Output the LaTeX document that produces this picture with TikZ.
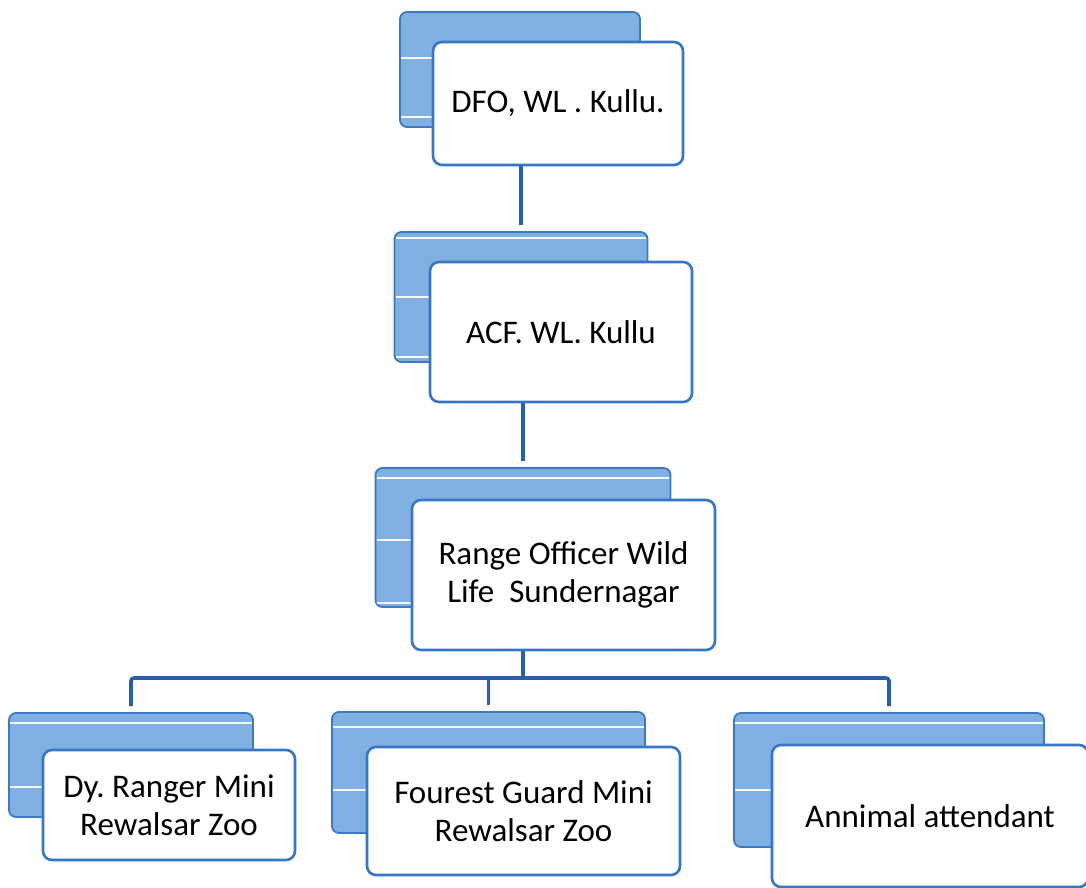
\documentclass[tikz,border=0pt]{standalone}
\usepackage{fontspec}
\setmainfont{Carlito}
\frenchspacing
\definecolor{backfill}{RGB}{128,176,226}
\definecolor{backedge}{RGB}{60,120,195}
\definecolor{frontedge}{RGB}{55,118,198}
\definecolor{linkblue}{RGB}{40,95,170}
\tikzset{
  backbox/.style={draw=backedge, fill=backfill, line width=1.8pt, rounded corners=7pt, inner sep=0pt},
  frontbox/.style={draw=frontedge, fill=white, line width=2.6pt, rounded corners=9pt, inner sep=0pt, align=center, font=\fontsize{33}{38}\selectfont},
  whiteline/.style={draw=white!92!backfill, line width=1.6pt},
  link/.style={draw=linkblue, line width=3.6pt, shorten >=6pt}
}
\begin{document}
\begin{tikzpicture}[x=1pt,y=-1pt]
\fill[white] (0,0) rectangle (1086,888);
\useasboundingbox (0,0) rectangle (1086,888);
% back boxes
\node[backbox, minimum width=240pt, minimum height=115pt] (b1) at (520,69.5) {};
\node[backbox, minimum width=253pt, minimum height=130pt] (b2) at (521,297) {};
\node[backbox, minimum width=295pt, minimum height=139pt] (b3) at (523,537.5) {};
\node[backbox, minimum width=244pt, minimum height=104pt] (b4) at (131,765) {};
\node[backbox, minimum width=313pt, minimum height=121pt] (b5) at (488.5,772.5) {};
\node[backbox, minimum width=310pt, minimum height=134pt] (b6) at (889,780) {};
% white layer lines
\foreach \b/\y in {b1/58,b1/117,b2/238,b2/297,b2/357,b3/478,b3/540,b3/603,b4/723,b4/787,b5/727,b5/790,b6/723,b6/790}{
  \draw[whiteline] ([xshift=2pt]\b.west |- 0,\y) -- ([xshift=-2pt]\b.east |- 0,\y);
}
% front boxes
\node[frontbox, minimum width=250pt, minimum height=123pt] (f1) at (558,103.5) {DFO, WL . Kullu.};
\node[frontbox, minimum width=262pt, minimum height=140pt] (f2) at (561,332) {ACF. WL. Kullu};
\node[frontbox, minimum width=303pt, minimum height=150pt] (f3) at (563.5,575) {Range Officer Wild\\Life\ \ Sundernagar};
\node[frontbox, minimum width=252pt, minimum height=110pt] (f4) at (169,805) {Dy. Ranger Mini\\Rewalsar Zoo};
\node[frontbox, minimum width=313pt, minimum height=128pt] (f5) at (523.5,811) {Fourest Guard Mini\\Rewalsar Zoo};
\node[frontbox, minimum width=316pt, minimum height=142pt] (f6) at (930,816) {Annimal attendant};
% connectors
\coordinate (bus) at (0,678);
\draw[link] (b2.north |- f1.south) -- (b2.north);
\draw[link] (b3.north |- f2.south) -- (b3.north);
\draw[linkblue, line width=3.6pt] (b3.north |- f3.south) -- (b3.north |- bus);
\draw[link, rounded corners=3pt] (b4.north) ++(0,-6) -- (b4.north |- bus) -- (b6.north |- bus) -- (b6.north);
\draw[link] (b5.north |- bus) -- (b5.north);
\end{tikzpicture}
\end{document}
